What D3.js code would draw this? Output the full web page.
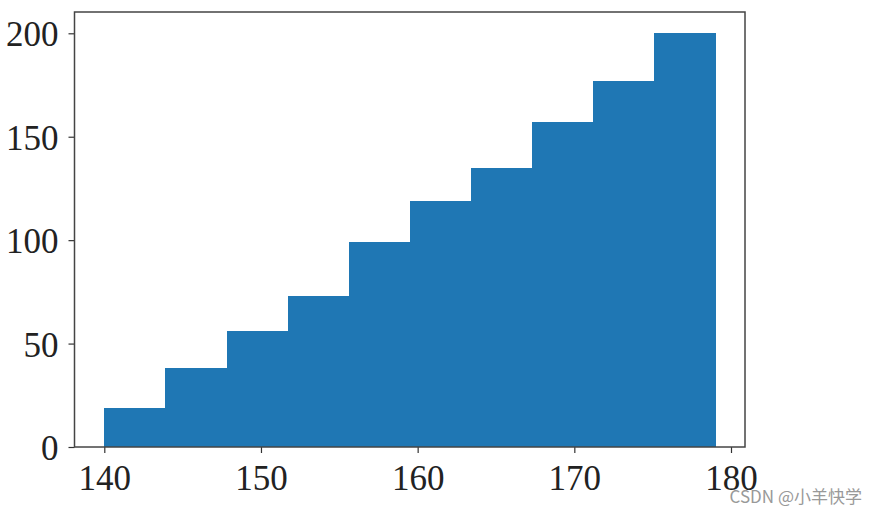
<!DOCTYPE html>
<html><head><meta charset="utf-8">
<script src="https://cdn.jsdelivr.net/npm/d3@7"></script>
<style>body{margin:0;background:#fff}svg{display:block}</style>
</head><body>
<svg id="c" width="877" height="516"></svg>
<script>
const binEdges = [140, 143.9, 147.8, 151.7, 155.6, 159.5, 163.4, 167.3, 171.2, 175.1, 179];
const counts = [19, 38, 56, 73, 99, 119, 135, 157, 177, 200];
const xTicks = [140, 150, 160, 170, 180];
const yTicks = [0, 50, 100, 150, 200];
const watermark = "CSDN @小羊快学";

const svg = d3.select("#c");
const L = 74.5, R = 745, T = 12, B = 447;
const x = d3.scaleLinear().domain([140, 180]).range([104.3, 731]);
const y = d3.scaleLinear().domain([0, 200]).range([B, 33.3]);

const bins = counts.map((c, i) => ({x0: binEdges[i], x1: binEdges[i + 1], c}));
svg.append("g").attr("shape-rendering", "crispEdges").selectAll("rect").data(bins).join("rect")
  .attr("x", d => x(d.x0)).attr("width", d => x(d.x1) - x(d.x0) + 0.5)
  .attr("y", d => y(d.c)).attr("height", d => y(0) - y(d.c))
  .attr("fill", "#1f77b4");

const font = "'Liberation Serif', 'DejaVu Serif', serif";
const xa = svg.append("g").attr("transform", `translate(0,${B})`)
  .call(d3.axisBottom(x).tickValues(xTicks).tickSize(6).tickPadding(4).tickFormat(d3.format("d")));
const ya = svg.append("g").attr("transform", `translate(${L},0)`)
  .call(d3.axisLeft(y).tickValues(yTicks).tickSize(6).tickPadding(10).tickFormat(d3.format("d")));
[xa, ya].forEach(a => {
  a.select(".domain").remove();
  a.selectAll(".tick line").attr("stroke", "#333").attr("stroke-width", 1.2);
  a.selectAll(".tick text").attr("font-family", font).attr("font-size", 35).attr("fill", "#222");
});
xa.selectAll(".tick text").attr("dy", "0.95em");
ya.selectAll(".tick text").attr("dy", "0.36em");

svg.append("rect").attr("x", L).attr("y", T).attr("width", R - L).attr("height", B - T)
  .attr("fill", "none").attr("stroke", "#444").attr("stroke-width", 1.5);

svg.append("text").attr("x", 862).attr("y", 503).attr("text-anchor", "end")
  .attr("font-family", "'Noto Sans CJK SC', 'Noto Sans', sans-serif").attr("font-size", 17)
  .attr("fill", "#999").text(watermark);
</script>
</body></html>
